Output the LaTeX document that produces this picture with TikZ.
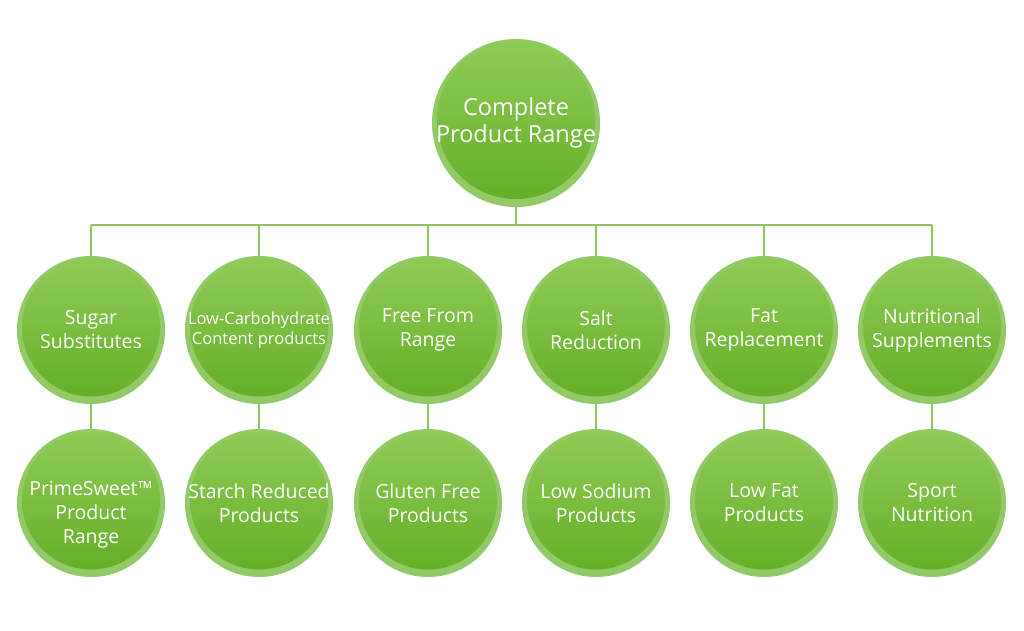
\documentclass[tikz,border=0pt]{standalone}
\usepackage{fontspec}
\setmainfont{Open Sans}
\usetikzlibrary{positioning}

\definecolor{ringgreen}{RGB}{145,202,102}
\definecolor{topgreen}{RGB}{144,204,88}
\definecolor{botgreen}{RGB}{98,174,38}
\definecolor{linkgreen}{RGB}{140,198,96}

\begin{document}
\begin{tikzpicture}[x=1pt, y=-1pt,
    bubble/.style={circle, fill=ringgreen, inner sep=0pt, minimum size=148pt,
        align=center, text=white, font=\fontsize{19.5}{24}\selectfont,
        path picture={\shade[top color=topgreen, bottom color=botgreen]
            ([yshift=2.5pt]path picture bounding box.center) circle (69pt);}},
    rootbubble/.style={bubble, minimum size=168pt, font=\fontsize{23.5}{27}\selectfont,
        path picture={\shade[top color=topgreen, bottom color=botgreen]
            ([yshift=3pt]path picture bounding box.center) circle (79pt);}},
    link/.style={draw=linkgreen, line width=1.5pt}]

    % Canvas
    \fill[white] (0,0) rectangle (1024,630);
    \useasboundingbox (0,0) rectangle (1024,630);

    % Root
    \node[rootbubble] (range) at (516,123) {Complete\\Product Range};

    % Categories
    \node[bubble] (sugar) at (91,330) {Sugar\\Substitutes};
    \node[bubble, font=\fontsize{16.5}{20}\selectfont] (carb) at (259,330) {Low-Carbohydrate\\Content products};
    \node[bubble] (free) at (428,330) {Free From\\Range};
    \node[bubble] (salt) at (596,330) {Salt\\Reduction};
    \node[bubble] (fat) at (764,330) {Fat\\Replacement};
    \node[bubble] (nutri) at (932,330) {Nutritional\\Supplements};

    % Products
    \node[bubble] (prime) at (91,503) {\raisebox{-12pt}[\height][\depth]{\begin{tabular}{@{}c@{}}PrimeSweet\texttrademark\\Product\\Range\end{tabular}}};
    \node[bubble] (starch) at (259,503) {Starch Reduced\\Products};
    \node[bubble] (gluten) at (428,503) {Gluten Free\\Products};
    \node[bubble] (sodium) at (596,503) {Low Sodium\\Products};
    \node[bubble] (lowfat) at (764,503) {Low Fat\\Products};
    \node[bubble] (sport) at (932,503) {Sport\\Nutrition};

    % Tree lines
    \coordinate (bar) at (516,225);
    \draw[link] (range.south) -- (bar);
    \draw[link] (bar -| sugar) -- (bar -| nutri);
    \foreach \n in {sugar, carb, free, salt, fat, nutri} {
        \draw[link] (bar -| \n) -- (\n.north);
    }
    \foreach \a/\b in {sugar/prime, carb/starch, free/gluten, salt/sodium, fat/lowfat, nutri/sport} {
        \draw[link] (\a.south) -- (\b.north);
    }

\end{tikzpicture}
\end{document}
